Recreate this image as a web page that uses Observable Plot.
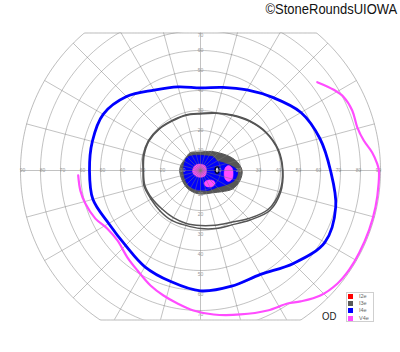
<!DOCTYPE html>
<html><head><meta charset="utf-8">
<script src="https://cdn.jsdelivr.net/npm/d3@7"></script>
<script src="https://cdn.jsdelivr.net/npm/@observablehq/plot@0.6"></script>
<style>
html,body{margin:0;padding:0;background:#fff;}
#wrap{position:relative;width:400px;height:352px;overflow:hidden;font-family:"Liberation Sans",Arial,sans-serif;}
#wrap svg{position:absolute;left:0;top:0;}
#title{position:absolute;right:3px;top:1px;font-size:15px;line-height:15px;color:#111;transform:scaleX(0.865);transform-origin:right top;white-space:nowrap;}
#od{position:absolute;left:321.5px;top:310.5px;font-size:11px;line-height:11px;color:#222;transform:scaleX(0.87);transform-origin:left top;}
#legend{position:absolute;left:345.5px;top:292px;width:26px;height:27.5px;border:1px solid #cfcfcf;background:#fff;}
.lg{position:absolute;left:1.5px;width:5px;height:5px;}
.lt{position:absolute;left:12.5px;font-size:5.5px;line-height:5px;color:#666;}
</style></head>
<body><div id="wrap"></div>
<script>
// ---- data (degrees of visual field) ----
const titleText = "©StoneRoundsUIOWA";
const eyeLabel = "OD";
const legendLabels = ["I2e", "I3e", "I4e", "V4e"];
const legendColors = ["#ff0000", "#5a5a5a", "#0000ff", "#ff4cff"];

const gridRadii = [10, 20, 30, 40, 50, 60, 70, 80];
const radialAngles = [0,15,30,45,60,75,90,105,120,135,150,165,180,195,210,225,240,255,270,285,300,315,330,345];
const hTickLabels = [10, 20, 30, 40, 50, 60, 70, 80, 90];
const vTickLabels = [10, 20, 30, 40, 50, 60, 70];
const fieldLimit = 90, topCut = 68.75, bottomCut = -74.75;

const meridians = [0,15,30,45,60,75,90,105,120,135,150,165,180,195,210,225,240,255,270,285,300,315,330,345];
// I3e isopter (drawn twice, two tracings)
const i3eInner = [41, 40, 37.8, 34.7, 31.7, 29.6, 28.3, 28.5, 28.5, 29.2, 29.7, 29.2, 28.5, 28.8, 28, 27.2, 27.2, 27.4, 27.5, 28.3, 30, 34, 39, 41];
const i3eOuter = [41.2, 40.3, 38, 35, 32, 29.8, 28.6, 28.8, 28.8, 29.5, 30, 29.6, 28.7, 29.3, 28.6, 28.6, 28.8, 28.4, 29, 30, 31.4, 35, 40, 41.5];
// I4e isopter
const i4eRadii = [65, 61.8, 58, 51.5, 46.5, 43, 41.3, 43.3, 46.4, 52.3, 56.2, 56, 55.5, 55.7, 53, 53, 55.6, 57.5, 60.2, 59.9, 60, 65.7, 71.8, 70];
// V4e isopter (open, angles continue past 360)
const v4eAngles = [182.3, 189.5, 196, 204.6, 212, 220.1, 230, 237.8, 246.5, 253.5, 260.2, 267.1, 275.2, 285.5, 295.6, 303.2, 307.4, 313.8, 320.5, 326.3, 332.6, 340.6, 348.2, 355.9, 360, 362.2, 366, 370.4, 375.4, 381.6, 387.1, 391.2, 397.1];
const v4eRadii  = [61.2, 60.9, 59.9, 57.8, 54.9, 54.3, 56.8, 59.1, 62.7, 65.2, 67.5, 70.1, 72.3, 74.7, 77.6, 79.5, 82.4, 86.6, 88.8, 89.4, 89.4, 89.4, 89.4, 89.3, 89.2, 88.4, 86.3, 83, 81.3, 81.6, 80.5, 77.9, 73.2];
// central filled areas
const i3eCoreRadii = [20.8, 18.5, 15.2, 12.6, 11, 9.8, 9.2, 9.5, 10.3, 9.8, 9.6, 10.2, 10.4, 10.3, 10.4, 10.8, 11.2, 11.5, 11.8, 12, 12.8, 15, 18.5, 20.3];
const i4eCoreRadii = [18.4, 13.2, 9.6, 9.4, 8.3, 7.7, 7.6, 7.9, 8.5, 9.3, 9, 8.6, 8.4, 8.5, 8.8, 9.3, 9.7, 9.9, 10, 10.4, 11, 11.8, 14.5, 17.8];
const v4eSpots = [
  [[-4,-0.3],[-2.7,2.5],[-0.3,3.2],[2.3,2.3],[3,0],[2.3,-2.6],[-0.5,-3.4],[-3,-2.3]],
  [[11.8,-1.5],[12.4,1.4],[14,2.5],[15.8,1.2],[16.3,-1.5],[15.8,-4.3],[14,-5.5],[12.3,-4.2]],
  [[1.8,-6.5],[2.7,-5.2],[4.5,-4.7],[6.5,-5.1],[7.3,-6.5],[6.3,-7.9],[4.5,-8.3],[2.7,-7.9]]
];
const blindSpot = [[7.3,0.3],[7.6,1.4],[8.3,1.9],[9,1.4],[9.3,0.3],[9,-0.9],[8.3,-1.4],[7.6,-0.9]];

// ---- helpers ----
const rad = Math.PI / 180;
const polar = (a, r) => ({x: r * Math.cos(a * rad), y: r * Math.sin(a * rad)});
const closedFrom = (radii) => meridians.map((a, i) => polar(a, radii[i]));

const circlePts = [];
for (const r of gridRadii) for (let a = 0; a <= 360; a += 2) circlePts.push({r, ...polar(a, r)});
const boundaryPts = [];
for (let a = 0; a <= 360; a += 0.5) {
  const p = polar(a, fieldLimit);
  boundaryPts.push({x: p.x, y: Math.max(bottomCut, Math.min(topCut, p.y))});
}
const v4ePts = v4eAngles.map((a, i) => polar(a, v4eRadii[i]));
const spotPts = v4eSpots.flatMap((s, k) => s.map(d => ({x: d[0], y: d[1], k})));
const blindPts = blindSpot.map(d => ({x: d[0], y: d[1]}));

const gridStroke = "#777";
const chart = Plot.plot({
  width: 400, height: 352,
  marginLeft: 18, marginRight: 18, marginTop: 32.5, marginBottom: 32.5,
  x: {domain: [-91, 91], axis: null},
  y: {domain: [bottomCut, topCut], axis: null},
  style: {background: "transparent", fontFamily: "Liberation Sans, Arial, sans-serif", overflow: "visible"},
  marks: [
    // central filled areas
    Plot.line(closedFrom(i3eCoreRadii), {x: "x", y: "y", curve: "catmull-rom-closed", fill: "#565656", stroke: "#565656", strokeWidth: 1}),
    Plot.line(closedFrom(i4eCoreRadii), {x: "x", y: "y", curve: "catmull-rom-closed", fill: "#0000ff", stroke: "#0000ee", strokeWidth: 0.8}),
    Plot.line(spotPts, {x: "x", y: "y", z: "k", curve: "catmull-rom-closed", fill: "#ff4cff", stroke: "#ff4cff", strokeWidth: 0.5}),
    Plot.line(blindPts, {x: "x", y: "y", curve: "catmull-rom-closed", fill: "#fff", stroke: "#000033", strokeWidth: 1.6}),
    // grid
    Plot.line(circlePts, {x: "x", y: "y", z: "r", stroke: gridStroke, strokeOpacity: 0.5, strokeWidth: 0.9, clip: true}),
    Plot.link(radialAngles, {x1: 0, y1: 0, x2: a => fieldLimit * Math.cos(a * rad), y2: a => fieldLimit * Math.sin(a * rad), stroke: gridStroke, strokeOpacity: 0.5, strokeWidth: 0.9, clip: true}),
    Plot.line(boundaryPts, {x: "x", y: "y", stroke: gridStroke, strokeOpacity: 0.5, strokeWidth: 1}),
    // tick labels
    Plot.text(hTickLabels, {x: d => -d + 1, y: 0, text: d => String(d), fontSize: 5, fill: "#9a9a9a"}),
    Plot.text(hTickLabels, {x: d => d - 1, y: 0, text: d => String(d), fontSize: 5, fill: "#9a9a9a"}),
    Plot.text(vTickLabels, {x: 0, y: d => Math.min(d, 67.5), text: d => String(d), fontSize: 5, fill: "#9a9a9a"}),
    Plot.text(vTickLabels, {x: 0, y: d => -(d + 2), text: d => String(d), fontSize: 5, fill: "#9a9a9a"}),
    // isopters
    Plot.line(closedFrom(i3eOuter), {x: "x", y: "y", curve: "catmull-rom-closed", stroke: "#555", strokeWidth: 1.5}),
    Plot.line(closedFrom(i3eInner), {x: "x", y: "y", curve: "catmull-rom-closed", stroke: "#555", strokeWidth: 1.5}),
    Plot.line(closedFrom(i4eRadii), {x: "x", y: "y", curve: "catmull-rom-closed", stroke: "#0000ff", strokeWidth: 2.8}),
    Plot.line(v4ePts, {x: "x", y: "y", curve: "catmull-rom", stroke: "#ff4cff", strokeWidth: 2.2})
  ]
});

const wrap = document.getElementById("wrap");
wrap.appendChild(chart);
const t = document.createElement("div"); t.id = "title"; t.textContent = titleText; wrap.appendChild(t);
const od = document.createElement("div"); od.id = "od"; od.textContent = eyeLabel; wrap.appendChild(od);
const lg = document.createElement("div"); lg.id = "legend";
legendLabels.forEach((l, i) => {
  const sw = document.createElement("div"); sw.className = "lg";
  sw.style.top = (1 + i * 7.2) + "px"; sw.style.background = legendColors[i]; lg.appendChild(sw);
  const tx = document.createElement("div"); tx.className = "lt";
  tx.style.top = (1 + i * 7.2) + "px"; tx.textContent = l; lg.appendChild(tx);
});
wrap.appendChild(lg);
</script></body></html>
